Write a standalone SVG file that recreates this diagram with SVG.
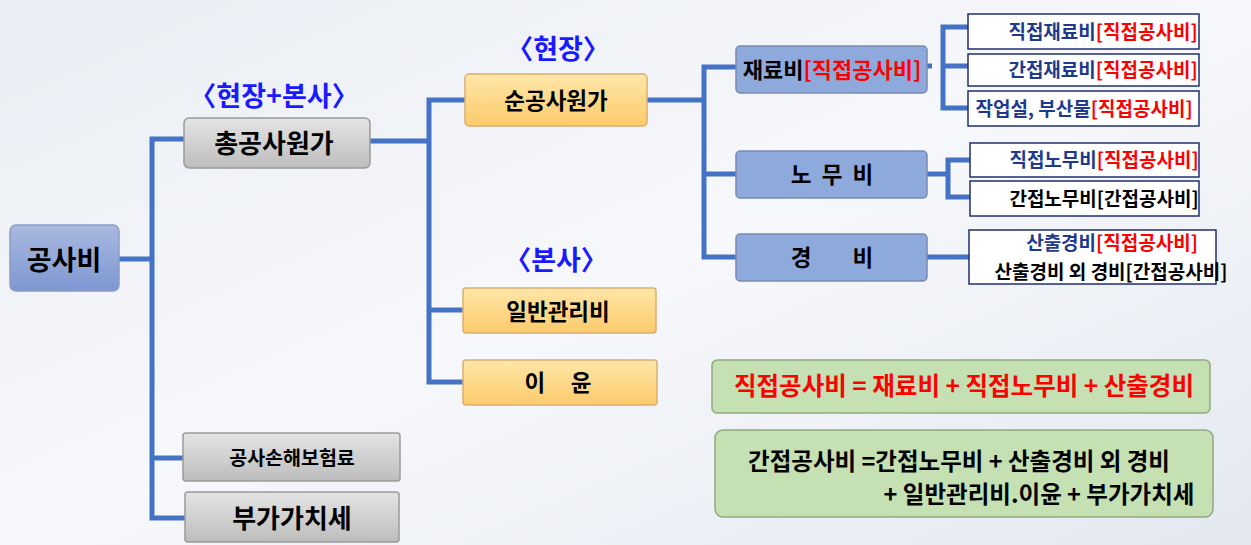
<svg xmlns="http://www.w3.org/2000/svg" width="1251" height="545" viewBox="0 0 1251 545">
<defs>
<linearGradient id="bg" x1="0" y1="0" x2="1" y2="1"><stop offset="0" stop-color="#e9edf3"/><stop offset="0.5" stop-color="#f7f8fb"/><stop offset="1" stop-color="#e3e8f0"/></linearGradient>
<linearGradient id="gBlue" x1="0" y1="0" x2="0" y2="1"><stop offset="0" stop-color="#a9b8e0"/><stop offset="1" stop-color="#7e97d2"/></linearGradient>
<linearGradient id="gGray" x1="0" y1="0" x2="0" y2="1"><stop offset="0" stop-color="#e4e4e4"/><stop offset="1" stop-color="#bdbdbd"/></linearGradient>
<linearGradient id="gOr" x1="0" y1="0" x2="0" y2="1"><stop offset="0" stop-color="#ffe6a8"/><stop offset="1" stop-color="#fccb6c"/></linearGradient>
</defs>
<style>
text{font-family:"Noto Sans CJK KR","Noto Sans",sans-serif;font-weight:bold;text-anchor:middle;dominant-baseline:central}
.c{stroke:#4472c4;stroke-width:5;fill:none}
.b{fill:url(#gBlue);stroke:#8a9cc8;stroke-width:1.5}
.g{fill:url(#gGray);stroke:#9a9a9a;stroke-width:1.5}
.o{fill:url(#gOr);stroke:#d8b070;stroke-width:1.5}
.m{fill:#8eaadc;stroke:#7a8bb0;stroke-width:1.5}
.w{fill:#fff;stroke:#1f2f6f;stroke-width:1.5}
.gr{fill:#c5e0b3;stroke:#8faa7c;stroke-width:1.5}
.lab{fill:#1a1aff;font-size:27px}
.dk{fill:#1f3a8a}
.r{fill:#ff0000}
.s{font-size:19px}
</style>
<rect width="1251" height="545" fill="url(#bg)"/>
<g id="connectors">
<path class="c" d="M119 259H152M184 139H152V518H185M152 458H183"/>
<path class="c" d="M370 141H429M465 100H429V382H463M429 310H463"/>
<path class="c" d="M647 100H704M736 67H704V257H736M704 174H736"/>
<path class="c" d="M927 66H932M968 27H943V108H968M943 66H968"/>
<path class="c" d="M927 174H948M970 160H948V197H970"/>
<path class="c" d="M927 257H969"/>
</g>
<text class="lab" x="274" y="94">〈현장+본사〉</text>
<text class="lab" x="558" y="47">〈현장〉</text>
<text class="lab" x="556" y="258">〈본사〉</text>
<g id="n-gongsabi"><rect class="b" x="10" y="225" width="109" height="66" rx="6"/><text x="64" y="258" font-size="27">공사비</text></g>
<g id="n-chong"><rect class="g" x="184" y="118" width="186" height="50" rx="5"/><text x="274" y="141" font-size="26">총공사원가</text></g>
<g id="n-bohum"><rect class="g" x="183" y="433" width="217" height="48" rx="3"/><text x="292" y="456" font-size="19.5">공사손해보험료</text></g>
<g id="n-vat"><rect class="g" x="185" y="492" width="214" height="50" rx="3"/><text x="292" y="516" font-size="26">부가가치세</text></g>
<g id="n-sun"><rect class="o" x="465" y="74" width="182" height="52" rx="4"/><text x="556" y="99" font-size="22.5">순공사원가</text></g>
<g id="n-ilban"><rect class="o" x="463" y="288" width="193" height="45" rx="3"/><text x="558" y="310" font-size="22.5">일반관리비</text></g>
<g id="n-iyun"><rect class="o" x="463" y="360" width="194" height="45" rx="3"/><text x="558" y="381" font-size="22.5" xml:space="preserve">이     윤</text></g>
<g id="n-jaeryo"><rect class="m" x="736" y="46" width="191" height="47" rx="4"/><text x="832" y="68" font-size="22">재료비<tspan class="r">[직접공사비]</tspan></text></g>
<g id="n-nomu"><rect class="m" x="736" y="151" width="191" height="47" rx="4"/><text x="832" y="173" font-size="22.5" xml:space="preserve">노  무  비</text></g>
<g id="n-gyeong"><rect class="m" x="736" y="234" width="191" height="47" rx="4"/><text x="832" y="256" font-size="22.5" xml:space="preserve">경        비</text></g>
<g id="n-s1"><rect class="w" x="968" y="14" width="231" height="35"/><text class="s" x="1103" y="30"><tspan class="dk">직접재료비</tspan><tspan class="r">[직접공사비]</tspan></text></g>
<g id="n-s2"><rect class="w" x="968" y="54" width="231" height="32"/><text class="s" x="1103" y="68"><tspan class="dk">간접재료비</tspan><tspan class="r">[직접공사비]</tspan></text></g>
<g id="n-s3"><rect class="w" x="968" y="91" width="231" height="35"/><text class="s" x="1084" y="107"><tspan class="dk">작업설, 부산물</tspan><tspan class="r">[직접공사비]</tspan></text></g>
<g id="n-s4"><rect class="w" x="970" y="143" width="229" height="34"/><text class="s" x="1104" y="158"><tspan class="dk">직접노무비</tspan><tspan class="r">[직접공사비]</tspan></text></g>
<g id="n-s5"><rect class="w" x="970" y="181" width="229" height="35"/><text class="s" x="1104" y="197">간접노무비[간접공사비]</text></g>
<g id="n-s6"><rect class="w" x="969" y="230" width="247" height="54"/><text class="s" x="1112" y="241"><tspan class="dk">산출경비</tspan><tspan class="r">[직접공사비]</tspan></text><text class="s" x="1111" y="270">산출경비 외 경비[간접공사비]</text></g>
<g id="n-f1"><rect class="gr" x="712" y="360" width="498" height="53" rx="5"/><text x="964" y="384" font-size="24.5" class="r">직접공사비 = 재료비 + 직접노무비 + 산출경비</text></g>
<g id="n-f2"><rect class="gr" x="715" y="430" width="498" height="87" rx="8"/><text x="959" y="460" font-size="23.5">간접공사비 =간접노무비 + 산출경비 외 경비</text><text x="1039" y="493" font-size="23.5">+ 일반관리비.이윤 + 부가가치세</text></g>
</svg>
